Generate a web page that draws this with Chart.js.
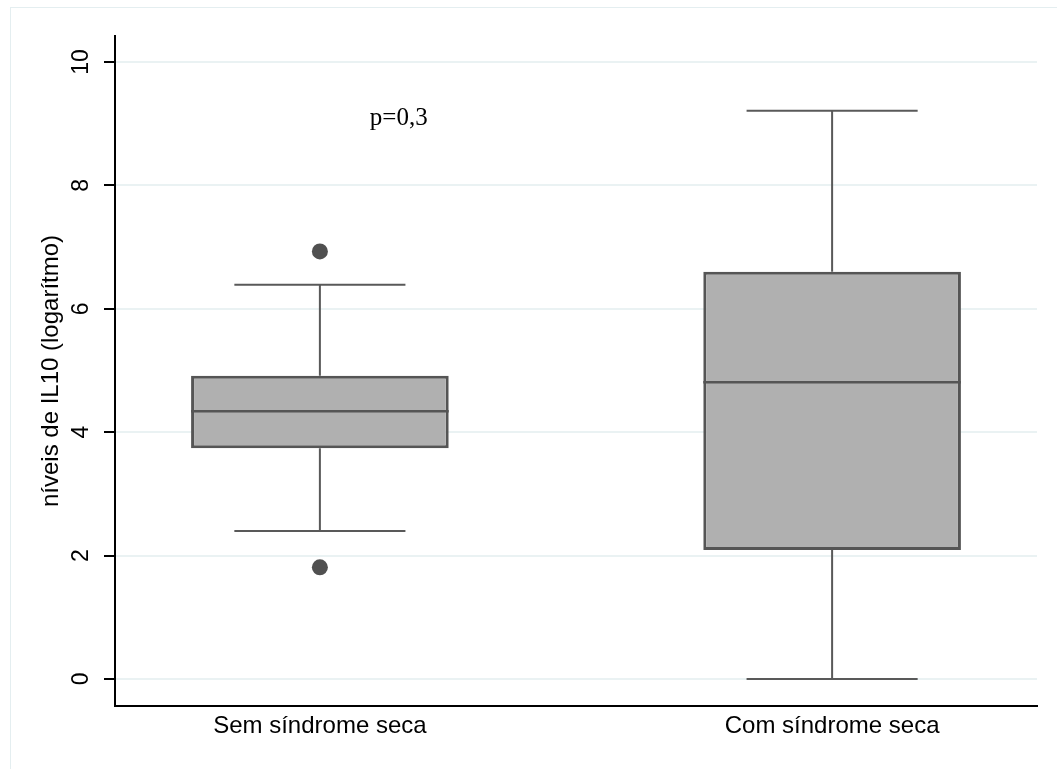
<!DOCTYPE html>
<html>
<head>
<meta charset="utf-8">
<script src="https://cdn.jsdelivr.net/npm/chart.js@4"></script>
<style>
    html, body { margin: 0; padding: 0; background: #fff; }
    #wrap { width: 1057px; height: 769px; position: relative; }
</style>
</head>
<body>
<div id="wrap"><canvas id="boxChart"></canvas></div>
<script>
// Box plot values (log10 IL10)
const CATEGORIES = ['Sem síndrome seca', 'Com síndrome seca'];
const X_POS = [1, 2];
const Q1 = [3.74, 2.09];
const MEDIAN = [4.34, 4.81];
const Q3 = [4.915, 6.60];
const WHISKER_LOW = [2.40, 0];
const WHISKER_HIGH = [6.39, 9.21];
const OUTLIERS = [[6.93, 1.81], []];
const Y_TICKS = [0, 2, 4, 6, 8, 10];
const P_LABEL = { text: 'p=0,3', x: 1.154, y: 9.08 };

const CAP_HALF = 0.167; // whisker cap half width, in x units
const BOX_COLOR = '#b0b0b0';
const LINE_COLOR = '#595959';
const SANS = "'Liberation Sans', Arial, sans-serif";

const boxData = X_POS.map((x, i) => ({ x: x, y: [Q1[i], Q3[i]] }));
const outlierData = [];
OUTLIERS.forEach((list, i) => list.forEach(v => outlierData.push({ x: X_POS[i], y: v })));

// light frame around the whole graph region
const framePlugin = {
    id: 'frame',
    beforeDraw(chart) {
        const ctx = chart.ctx;
        ctx.save();
        ctx.strokeStyle = '#e4eef0';
        ctx.lineWidth = 1;
        ctx.strokeRect(10.5, 7.5, chart.width, chart.height);
        ctx.restore();
    }
};

// whiskers, caps, medians and the p-value note
const boxPlugin = {
    id: 'boxExtras',
    afterDatasetsDraw(chart) {
        const ctx = chart.ctx;
        const xs = chart.scales.x;
        const ys = chart.scales.y;
        const bars = chart.getDatasetMeta(0).data;
        ctx.save();
        ctx.strokeStyle = LINE_COLOR;
        ctx.lineWidth = 2;
        ctx.lineCap = 'butt';
        X_POS.forEach((xv, i) => {
            const cx = xs.getPixelForValue(xv);
            const capL = xs.getPixelForValue(xv - CAP_HALF);
            const capR = xs.getPixelForValue(xv + CAP_HALF);
            const yHi = ys.getPixelForValue(WHISKER_HIGH[i]);
            const yLo = ys.getPixelForValue(WHISKER_LOW[i]);
            const yQ3 = ys.getPixelForValue(Q3[i]);
            const yQ1 = ys.getPixelForValue(Q1[i]);
            ctx.lineWidth = 2;
            ctx.beginPath();
            ctx.moveTo(cx, yQ3); ctx.lineTo(cx, yHi);
            ctx.moveTo(cx, yQ1); ctx.lineTo(cx, yLo);
            ctx.moveTo(capL, yHi); ctx.lineTo(capR, yHi);
            ctx.moveTo(capL, yLo); ctx.lineTo(capR, yLo);
            ctx.stroke();

            // median across the box
            const bar = bars[i];
            const yMed = ys.getPixelForValue(MEDIAN[i]);
            ctx.strokeStyle = '#555555';
            ctx.lineWidth = 2.5;
            ctx.beginPath();
            ctx.moveTo(bar.x - bar.width / 2, yMed);
            ctx.lineTo(bar.x + bar.width / 2, yMed);
            ctx.stroke();
            ctx.strokeStyle = LINE_COLOR;
        });

        ctx.fillStyle = '#000';
        ctx.font = "25px 'Liberation Serif', 'Times New Roman', serif";
        ctx.textAlign = 'center';
        ctx.textBaseline = 'middle';
        ctx.fillText(P_LABEL.text, xs.getPixelForValue(P_LABEL.x), ys.getPixelForValue(P_LABEL.y));
        ctx.restore();
    }
};

const ctx = document.getElementById('boxChart').getContext('2d');
const chart = new Chart(ctx, {
    type: 'bar',
    data: {
        datasets: [
            {
                type: 'bar',
                data: boxData,
                backgroundColor: BOX_COLOR,
                borderColor: '#555555',
                borderWidth: 3,
                borderSkipped: false,
                barPercentage: 0.503,
                categoryPercentage: 1.0,
                order: 2
            },
            {
                type: 'scatter',
                data: outlierData,
                backgroundColor: '#505050',
                borderWidth: 0,
                pointRadius: 8,
                order: 1
            }
        ]
    },
    options: {
        responsive: true,
        maintainAspectRatio: false,
        animation: false,
        layout: { padding: { top: 36, right: 20, bottom: 0, left: 0 } },
        plugins: {
            legend: { display: false },
            tooltip: { enabled: false }
        },
        scales: {
            x: {
                type: 'linear',
                offset: false,
                min: 0.6,
                max: 2.4,
                afterBuildTicks: (scale) => { scale.ticks = X_POS.map(v => ({ value: v })); },
                afterFit: (scale) => { scale.height = 63; },
                ticks: {
                    callback: (v, i) => CATEGORIES[i],
                    color: '#000',
                    font: { family: SANS, size: 24 },
                    padding: 6,
                    maxRotation: 0,
                    autoSkip: false
                },
                grid: { display: true, drawOnChartArea: false, drawTicks: false },
                border: { color: '#000', width: 2 }
            },
            y: {
                type: 'linear',
                min: -0.438,
                max: 10.421,
                afterBuildTicks: (scale) => { scale.ticks = Y_TICKS.map(v => ({ value: v })); },
                afterFit: (scale) => { scale.width = 115; },
                ticks: {
                    color: '#000',
                    font: { family: SANS, size: 23 },
                    minRotation: 90,
                    maxRotation: 90,
                    crossAlign: 'center',
                    padding: 10
                },
                grid: {
                    color: '#eaf2f3',
                    lineWidth: 2,
                    tickColor: '#000',
                    tickWidth: 2,
                    tickLength: 11
                },
                border: { color: '#000', width: 2 },
                title: {
                    display: true,
                    text: 'níveis de IL10 (logarítmo)',
                    color: '#000',
                    font: { family: SANS, size: 24 },
                    padding: { top: 37, bottom: 0 }
                }
            }
        }
    },
    plugins: [framePlugin, boxPlugin]
});
</script>
</body>
</html>
